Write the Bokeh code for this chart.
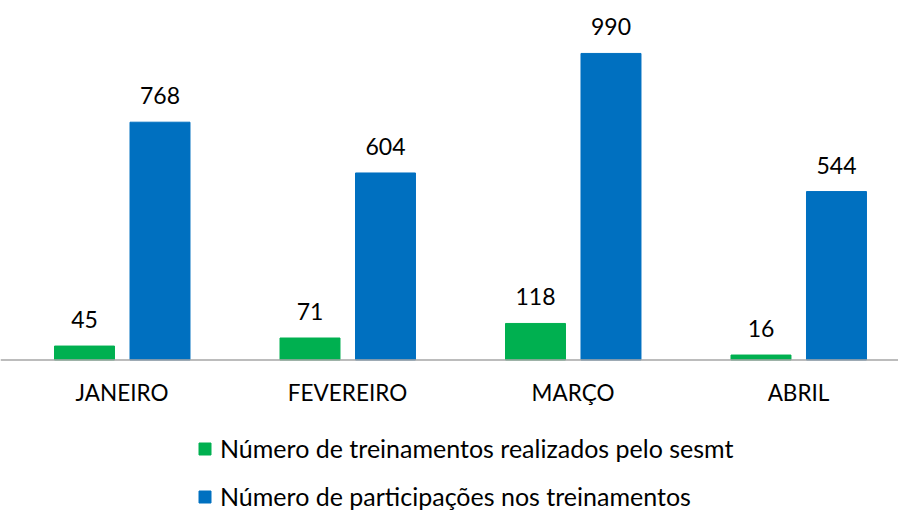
from bokeh.plotting import figure
from bokeh.models import ColumnDataSource, Range1d, Legend, LegendItem, Span
from bokeh.transform import dodge
from bokeh.core.properties import value
from bokeh.embed import file_html
from bokeh.resources import INLINE

categories = ["JANEIRO", "FEVEREIRO", "MARÇO", "ABRIL"]
treinamentos = [45, 71, 118, 16]
participacoes = [768, 604, 990, 544]
series_names = ["Número de treinamentos realizados pelo sesmt",
                "Número de participações nos treinamentos"]

FONT = "Lato"
GREEN = "#00b050"
BLUE = "#0070c0"

src = ColumnDataSource(dict(
    x=list(range(len(categories))),
    base=[0] * len(categories),
    cat=categories,
    t=treinamentos,
    p=participacoes,
    tl=[str(v) for v in treinamentos],
    pl=[str(v) for v in participacoes],
))

p = figure(width=898, height=511, output_backend="svg", toolbar_location=None,
           x_range=Range1d(-0.5388, 3.4435), y_range=Range1d(-489.3, 1161),
           x_axis_location=None, y_axis_location=None,
           min_border_left=0, min_border_right=0,
           min_border_top=0, min_border_bottom=0)
p.outline_line_color = None
p.xgrid.visible = False
p.ygrid.visible = False

r1 = p.vbar(x=dodge("x", -0.1663, range=p.x_range), top="t", width=0.266,
            source=src, color=GREEN)
r2 = p.vbar(x=dodge("x", 0.1685, range=p.x_range), top="p", width=0.266,
            source=src, color=BLUE)

# baseline (category axis line)
p.add_layout(Span(location=0, dimension="width", line_color="#a6a6a6",
                  line_width=1.5))

# value labels
p.text(x=dodge("x", -0.1663, range=p.x_range), y="t", text="tl", source=src,
       text_align="center", text_baseline="alphabetic", y_offset=-26.5,
       text_font=value(FONT), text_font_size="23px", text_color="#000000")
p.text(x=dodge("x", 0.1685, range=p.x_range), y="p", text="pl", source=src,
       text_align="center", text_baseline="alphabetic", y_offset=-26.5,
       text_font=value(FONT), text_font_size="23px", text_color="#000000")

# category labels
p.text(x="x", y="base", text="cat", source=src,
       text_align="center", text_baseline="alphabetic", y_offset=32.5,
       text_font=value(FONT), text_font_size="22.5px", text_color="#000000")

legend = Legend(items=[LegendItem(label=series_names[0], renderers=[r1]),
                       LegendItem(label=series_names[1], renderers=[r2])],
                location=(197, 0), orientation="vertical",
                glyph_width=15, glyph_height=15, label_height=28,
                label_standoff=8, spacing=18, padding=0, margin=0,
                border_line_color=None, background_fill_alpha=0,
                label_text_font=FONT, label_text_font_size="25px",
                label_text_color="#000000")
p.add_layout(legend, "center")

open("out.html", "w").write(file_html(p, INLINE))
